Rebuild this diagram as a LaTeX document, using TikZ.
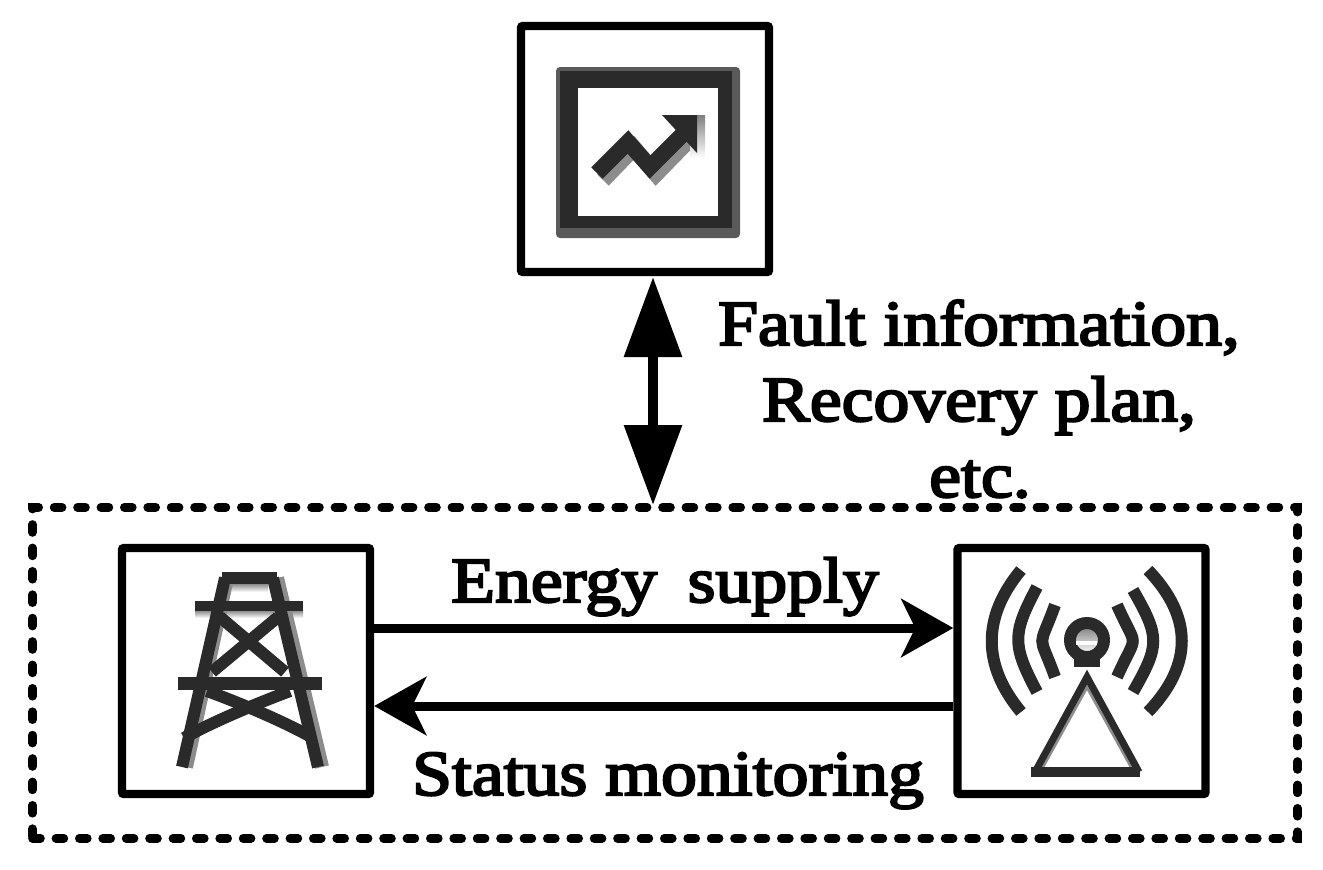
\documentclass[tikz,border=0pt]{standalone}
\usepackage{fontspec}
\setmainfont{Liberation Serif}
\newfontfamily\labfont[FakeBold=3.5,FakeStretch=1.12]{Liberation Serif}
\usetikzlibrary{arrows.meta}
\definecolor{ink}{HTML}{2A2A2A}
\definecolor{shade}{HTML}{8C8C8C}
\definecolor{shadeb}{HTML}{5A5A5A}
\tikzset{
  x=0.5pt,y=-0.5pt,
  box/.style={draw=black,line width=4.2pt,fill=white,minimum width=124pt,minimum height=123pt,inner sep=0pt,rounded corners=1pt},
  lab/.style={inner sep=0pt,anchor=base,font=\fontsize{32}{32}\labfont},
  flow/.style={line width=4.5pt,-{Stealth[inset=7pt,length=26pt,width=29pt]}},
  vflow/.style={line width=4.8pt,{Triangle[length=40pt,width=28pt]}-{Triangle[length=40pt,width=28pt]}},
  ic/.style={draw=ink,line cap=butt,line join=miter},
  ics/.style={draw=shade,line cap=butt,line join=miter},
}
\begin{document}
\begin{tikzpicture}
\useasboundingbox (0,0) rectangle (1323,869);
\fill[white] (0,0) rectangle (1323,869);
\node[draw=black,line width=4.3pt,line cap=round,dash pattern=on 4pt off 7.7pt,minimum width=632.5pt,minimum height=165.5pt,inner sep=0pt] (group) at (665,672.75) {};
\node[box] (top) at (645,149) {};
\node[box] (tower) at (246,671) {};
\node[box] (radio) at (1081.5,671) {};
\coordinate (gtop) at (653,505);
\coordinate (ttop) at (653,277);
\draw[vflow] (ttop) -- (gtop);
\coordinate (a1) at (tower.east |- 0,628);
\coordinate (b1) at (radio.west |- 0,628);
\coordinate (a2) at (radio.west |- 0,706);
\coordinate (b2) at (tower.east |- 0,706);
\draw[flow] (a1) -- (b1);
\draw[flow] (a2) -- (b2);
\node[lab] (l1) at (979,345) {Fault information,};
\node[lab] (l2) at (979,421) {Recovery plan,};
\node[lab] (l3) at (980,497) {etc.};
\node[lab] (l4) at (665,602) {Energy\hspace{0.2em} supply};
\node[lab] (l5) at (668,795) {Status monitoring};
% chart icon
\fill[shadeb,rounded corners=2pt] (556,67) rectangle (740,238);
\fill[ink] (560,71) rectangle (732,228);
\fill[white] (578,88) rectangle (718,216);
\draw[ics,line width=8pt] (603,180) -- (634,148) -- (656,174) -- (692,137);
\fill[shade] (690,115) -- (705,115) -- (705,158) -- (690,158) -- cycle;
\draw[ic,line width=8pt] (597,173) -- (628,142) -- (650,167) -- (687,130);
\fill[ink] (662,115) -- (697,115) -- (697,153) -- cycle;
% tower icon
\fill[shade] (230,583) rectangle (268,592);
\fill[shade] (195,610) rectangle (303,618);
\draw[ics,line width=7pt] (227,578) -- (186,767);
\draw[ics,line width=7pt] (277,578) -- (322,767);
\draw[ic,line width=6pt] (222,578) -- (277,578);
\draw[ic,line width=6pt] (225,578) -- (182,767);
\draw[ic,line width=6pt] (273,578) -- (318,767);
\draw[ic,line width=5pt] (195,606) -- (303,606);
\draw[ic,line width=6.5pt] (178,683) -- (322,683);
\draw[ic,line width=6pt] (220,617) -- (285,672);
\draw[ic,line width=6pt] (278,617) -- (212,672);
\draw[ic,line width=6pt] (207,691) .. controls (240,703) and (285,722) .. (313,738);
\draw[ic,line width=6pt] (290,691) .. controls (258,703) and (212,722) .. (184,738);
% radio icon
\fill[shade] (1087,640) circle (14);
\draw[ic,line width=6pt] (1087,640) circle (17);
\fill[white] (1076,641) rectangle (1097,645);
\fill[ink] (1074,652) rectangle (1100,667);
\foreach \ya/\xa/\xc/\yb in {570/1021/982/712, 587/1037/1012/692, 605/1055/1038/677}{
  \draw[ic,line width=6pt] (\xa,\ya) .. controls (\xc,\ya+47) and (\xc,\yb-47) .. (\xa,\yb);
}
\foreach \ya/\xa/\xc/\yb in {570/1148/1193/712, 590/1133/1160/692, 605/1117/1138/677}{
  \draw[ic,line width=6pt] (\xa,\ya) .. controls (\xc,\ya+47) and (\xc,\yb-47) .. (\xa,\yb);
}
\draw[ics,line width=2.5pt] (1040,770) -- (1087,685) -- (1134,770);
\draw[ic,line width=3.5pt] (1035,772) -- (1087,677) -- (1139,772);
\draw[ic,line width=5pt] (1031,772) -- (1140,772);
\end{tikzpicture}
\end{document}
